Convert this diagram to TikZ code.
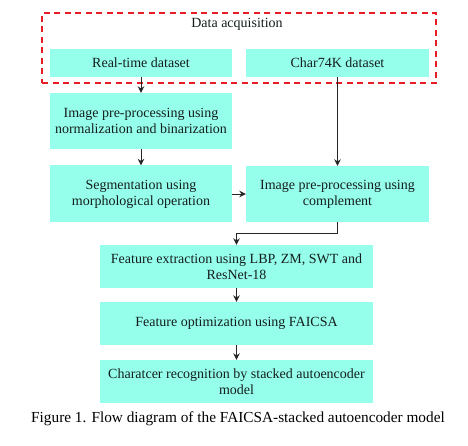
\documentclass[tikz,border=0pt]{standalone}
\usepackage{fontspec}
\setmainfont{Liberation Serif}
\usepackage{tikz}
\usetikzlibrary{positioning, arrows.meta, calc}
\definecolor{flowcyan}{RGB}{150, 255, 236}
\definecolor{acqred}{RGB}{232, 28, 36}
\definecolor{flowtext}{RGB}{20, 30, 28}
\tikzset{
  flowBox/.style={
    draw=none,
    fill=flowcyan,
    align=center,
    inner sep=2pt,
    font=\fontsize{14}{16}\selectfont\color{flowtext}
  },
  narrowBox/.style={
    flowBox,
    minimum width=182pt
  },
  wideBox/.style={
    flowBox,
    minimum width=273pt,
    minimum height=43pt
  },
  acqFrame/.style={
    draw=acqred,
    line width=2.4pt,
    dash pattern=on 6pt off 4.5pt,
    minimum width=394pt,
    minimum height=70pt
  },
  flowArrow/.style={
    -{Stealth[length=6.5pt,width=6.5pt]},
    line width=0.9pt,
    draw=black!85
  }
}
\begin{document}
\begin{tikzpicture}[x=1pt, y=-1pt]
  \useasboundingbox (0,0) rectangle (468,446);
  % Data acquisition group
  \node[acqFrame] (acq) at (239,48) {};
  \node[font=\fontsize{14}{16}\selectfont\color{flowtext}] (acqtitle) at (237,24) {Data acquisition};
  \node[narrowBox, minimum height=28pt] (realtime) at (141,63) {Real-time dataset};
  \node[narrowBox, minimum width=183pt, minimum height=28pt] (charset) at (337.5,63) {Char74K dataset};
  % left branch
  \node[narrowBox, minimum height=56pt] (normbin) at (141,121) {Image pre-processing using\\normalization and binarization};
  \node[narrowBox, minimum height=57pt] (segment) at (141,194) {Segmentation using\\morphological operation};
  % right branch
  \node[narrowBox, minimum width=183pt, minimum height=56pt] (complement) at (337.5,194) {Image pre-processing using\\complement};
  % main chain
  \node[wideBox] (featext) at (236.5,266.5) {Feature extraction using LBP, ZM, SWT and\\ResNet-18};
  \node[wideBox] (featopt) at (236.5,323.5) {Feature optimization using FAICSA};
  \node[wideBox] (charrec) at (236.5,381.5) {Charatcer recognition by stacked autoencoder\\model};
  \coordinate (bend) at ($(complement.south)+(0,11)$);
  \draw[flowArrow] (realtime) -- (normbin);
  \draw[flowArrow] (normbin) -- (segment);
  \draw[flowArrow] (charset) -- (complement);
  \draw[flowArrow] (segment) -- (complement);
  \draw[flowArrow] (complement.south) -- (bend) -| (featext.north);
  \draw[flowArrow] (featext) -- (featopt);
  \draw[flowArrow] (featopt) -- (charrec);
  \node[font=\fontsize{15.3}{18}\selectfont] (caption) at (238,419) {Figure 1. Flow diagram of the FAICSA-stacked autoencoder model};
\end{tikzpicture}
\end{document}
